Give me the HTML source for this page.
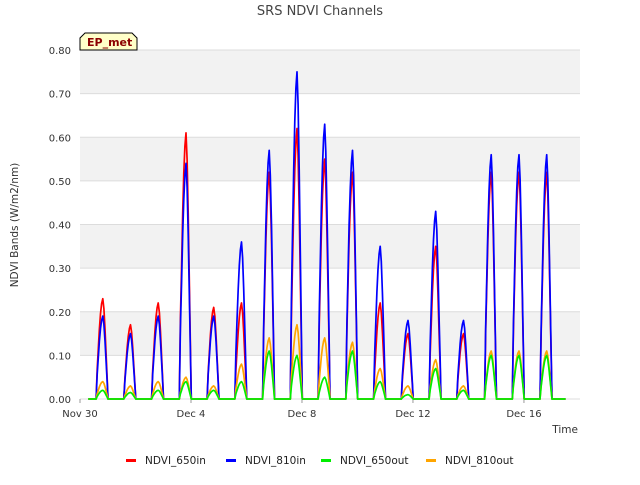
<!DOCTYPE html>
<html><head><meta charset="utf-8"><style>
body{margin:0;background:#fff;font-family:"Liberation Sans","DejaVu Sans",sans-serif}
</style></head><body>
<svg id="c" width="640" height="480" xmlns="http://www.w3.org/2000/svg" font-family="DejaVu Sans, Liberation Sans, sans-serif">
<text x="320" y="15" text-anchor="middle" font-size="13" fill="#444">SRS NDVI Channels</text>
<text transform="translate(18,225) rotate(-90)" text-anchor="middle" font-size="10.5" fill="#333">NDVI Bands (W/m2/nm)</text>
<text x="578" y="433" text-anchor="end" font-size="10.5" fill="#333">Time</text>
<g id="plot"></g>
<g>
<path d="M80,50 L80,38 L85,33 L132,33 L137,38 L137,50 Z" fill="#ffffc8" stroke="#000" stroke-width="1"/>
<text x="87" y="46" font-size="11" font-weight="bold" fill="#8b0000">EP_met</text>
</g>
<g id="legend"></g>
</svg>
<script>
const days=[0,1,2,3,4,5,6,7,8,9,10,11,12,13,14,15,16];
const in810=[0.19,0.15,0.19,0.54,0.19,0.36,0.57,0.75,0.63,0.57,0.35,0.18,0.43,0.18,0.56,0.56,0.56];
const in650=[0.23,0.17,0.22,0.61,0.21,0.22,0.52,0.62,0.55,0.52,0.22,0.15,0.35,0.15,0.52,0.52,0.52];
const out650=[0.02,0.015,0.02,0.04,0.02,0.04,0.11,0.10,0.05,0.11,0.04,0.01,0.07,0.02,0.10,0.10,0.10];
const out810=[0.04,0.03,0.04,0.05,0.03,0.08,0.14,0.17,0.14,0.13,0.07,0.03,0.09,0.03,0.11,0.11,0.11];
const profOffset=[0.58,0.62,0.66,0.70,0.74,0.78,0.82,0.86,0.90,0.94,0.98,1.01];
const profFactor=[0,0.3,0.5,0.7,0.85,0.95,1,0.9,0.7,0.45,0.2,0];
const yTicks=[0,0.1,0.2,0.3,0.4,0.5,0.6,0.7,0.8];
const xTickDays=[0,4,8,12,16];
const xTickLabels=["Nov 30","Dec 4","Dec 8","Dec 12","Dec 16"];
const L=80,R=580,T=50,B=399,xMax=18.02;
const X=d=>L+d/xMax*(R-L), Y=v=>B-v/0.8*(B-T);
const NS="http://www.w3.org/2000/svg";
const g=document.getElementById('plot');
function mk(t,a,p){const e=document.createElementNS(NS,t);for(const k in a)e.setAttribute(k,a[k]);(p||g).appendChild(e);return e;}
const bg=mk('rect',{x:L,y:T,width:R-L,height:B-T,fill:'#fff'});


for(let i=0;i<yTicks.length-1;i+=2){
 const b=mk('rect',{x:L,y:Y(yTicks[i+1]+0.1>0.8?0.8:yTicks[i+1]+0.1),width:R-L,height:Y(yTicks[i+1])-Y(yTicks[i+1]+0.1),fill:'#f2f2f2'});
 
 
}
yTicks.forEach(v=>{
 const l=mk('line',{x1:L,x2:R,y1:Y(v),y2:Y(v),stroke:'#dcdcdc'});
 
 
 const t=mk('text',{x:L-9,y:Y(v)+4,'text-anchor':'end','font-size':'10',fill:'#333'});t.textContent=v.toFixed(2);
 
 
});
xTickDays.forEach((d,i)=>{
 const t=mk('text',{x:X(d),y:B+18,'text-anchor':'middle','font-size':'10',fill:'#333'});t.textContent=xTickLabels[i];
 
 
 const k=mk('line',{x1:X(d),x2:X(d),y1:B,y2:B+4,stroke:'#999'});
 
 
});
const series=[["NDVI_650in",in650,"#ff0000"],["NDVI_810in",in810,"#0000ff"],["NDVI_650out",out650,"#00ee00"],["NDVI_810out",out810,"#ffa500"]];
const order=[0,1,3,2];
order.forEach(si=>{
 const [name,vals,col]=series[si];
 let pts=[[X(0.3),Y(0)]];
 days.forEach((d,i)=>{profOffset.forEach((o,j)=>pts.push([X(d+o),Y(vals[i]*profFactor[j])]));});
 pts.push([X(17.5),Y(0)]);
 const p=mk('polyline',{points:pts.map(q=>q[0].toFixed(1)+','+q[1].toFixed(1)).join(' '),fill:'none',stroke:col,'stroke-width':'1.7','stroke-linejoin':'round'});
 
 
});
const lg=document.getElementById('legend');
const lx=[126,226,321,426];
series.forEach((s,i)=>{
 const e=mk('g',{},lg);
 
 
 mk('rect',{x:lx[i],y:459,width:10,height:3,fill:s[2]},e);
 const t=mk('text',{x:lx[i]+19,y:464,'font-size':'10.5',fill:'#222'},e);t.textContent=s[0];
});
</script>
</body></html>
